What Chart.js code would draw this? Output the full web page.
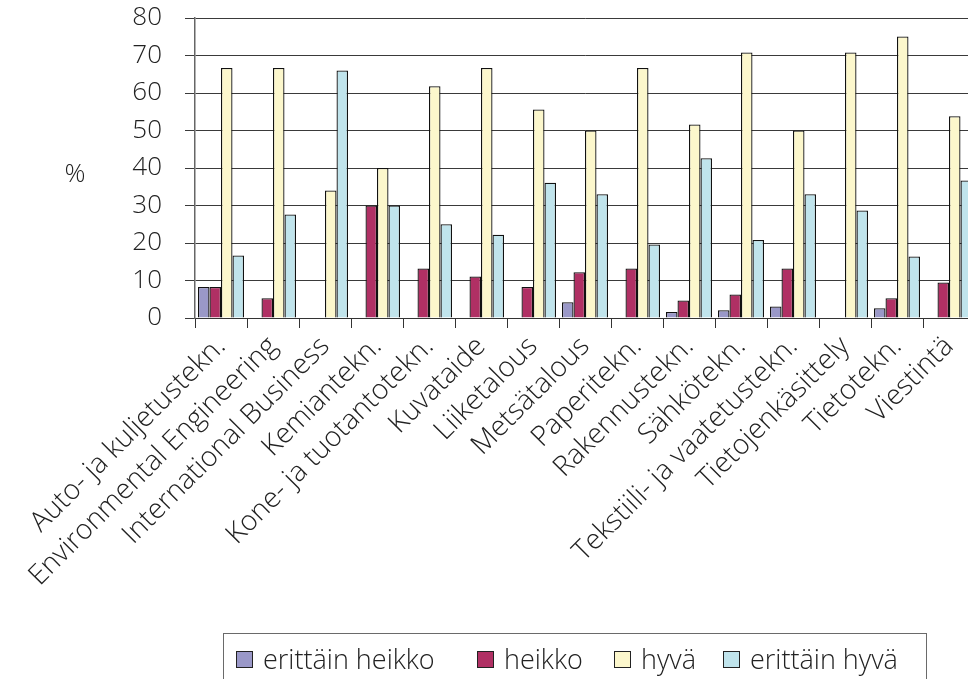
<!DOCTYPE html>
<html>
<head>
<meta charset="utf-8">
<script src="https://cdn.jsdelivr.net/npm/chart.js@4"></script>
<style>
  html, body { margin: 0; padding: 0; background: #fff; overflow: hidden; width: 968px; height: 679px; }
  #wrap { position: absolute; left: 0; top: 0; width: 990px; height: 679px; }
  #legend { position: absolute; left: 223px; top: 633px; width: 704px; height: 70px; border: 1px solid #6a6a6a; box-sizing: border-box; font-family: 'Open Sans', sans-serif; font-weight: 300; font-size: 27px; color: #222; }
  .item { position: absolute; top: 0; height: 52px; line-height: 52px; white-space: nowrap; }
  .sw { position: absolute; top: 17px; width: 15px; height: 15px; border: 1.5px solid #222; }
  .lbl { position: absolute; top: -1px; }
</style>
</head>
<body>
<div id="wrap"><canvas id="c" width="990" height="679"></canvas></div>
<div id="legend"></div>
<script>
const categories = ['Auto- ja kuljetustekn.', 'Environmental Engineering', 'International Business', 'Kemiantekn.', 'Kone- ja tuotantotekn.', 'Kuvataide', 'Liiketalous', 'Metsätalous', 'Paperitekn.', 'Rakennustekn.', 'Sähkötekn.', 'Tekstiili- ja vaatetustekn.', 'Tietojenkäsittely', 'Tietotekn.', 'Viestintä'];
const seriesNames = ['erittäin heikko', 'heikko', 'hyvä', 'erittäin hyvä'];
const erittainHeikko = [8.3, 0, 0, 0, 0, 0, 0, 4.2, 0, 1.6, 2.1, 3.1, 0, 2.6, 0];
const heikko = [8.3, 5.3, 0, 30, 13.2, 11.1, 8.3, 12.2, 13.2, 4.7, 6.3, 13.2, 0, 5.3, 9.5];
const hyva = [66.7, 66.7, 34.0, 40, 61.8, 66.7, 55.6, 50, 66.7, 51.6, 70.8, 50, 70.8, 75.1, 53.8];
const erittainHyva = [16.7, 27.6, 66.0, 30, 25.0, 22.2, 36.1, 33.0, 19.6, 42.6, 20.8, 33.0, 28.7, 16.4, 36.7];
const yTicks = [0, 10, 20, 30, 40, 50, 60, 70, 80];
const yTitle = '%';

const colors = ['#9a98c8', '#b03064', '#fcf7cc', '#c0e4ec'];
const FONT = "'Open Sans', sans-serif";

const seriesData = [erittainHeikko, heikko, hyva, erittainHyva];
const datasets = seriesNames.map((name, i) => ({
  label: name,
  data: seriesData[i],
  backgroundColor: colors[i],
  borderColor: '#111',
  borderWidth: 1.3,
  categoryPercentage: 0.885,
  barPercentage: 1.0
}));

const yTitlePlugin = {
  id: 'yTitle',
  afterDraw(chart) {
    const ctx = chart.ctx;
    ctx.save();
    ctx.font = '300 26px ' + FONT;
    ctx.fillStyle = '#222';
    ctx.textAlign = 'center';
    ctx.textBaseline = 'middle';
    ctx.fillText(yTitle, 75, 175);
    ctx.restore();
  }
};

new Chart(document.getElementById('c'), {
  type: 'bar',
  data: { labels: categories, datasets },
  options: {
    responsive: false,
    animation: false,
    layout: { padding: { top: 18, right: 15, left: 0, bottom: 0 } },
    plugins: { legend: { display: false }, tooltip: { enabled: false } },
    scales: {
      x: {
        grid: { display: true, drawOnChartArea: false, offset: true, tickLength: 10, color: '#333', lineWidth: 1 },
        border: { display: true, color: '#333', width: 1 },
        ticks: { minRotation: 45, maxRotation: 45, autoSkip: false, padding: 2, color: '#222', font: { family: FONT, size: 28, weight: 300 } },
        afterFit(scale) { scale.height = 361; scale.paddingLeft = 0; scale.paddingRight = 0; scale.paddingTop = 0; scale.paddingBottom = 0; }
      },
      y: {
        min: 0, max: 80,
        afterBuildTicks(scale) { scale.ticks = yTicks.map(v => ({ value: v })); },
        grid: { color: '#3a3a3a', lineWidth: 1, tickLength: 10 },
        border: { display: true, color: '#666', width: 1.5 },
        ticks: { padding: 23, autoSkip: false, color: '#222', font: { family: FONT, size: 26, weight: 300 } },
        afterFit(scale) { scale.width = 195; scale.paddingTop = 0; scale.paddingBottom = 0; scale.paddingLeft = 0; scale.paddingRight = 0; }
      }
    }
  },
  plugins: [yTitlePlugin]
});

// HTML legend
const legend = document.getElementById('legend');
const swLeft = [12, 253, 390, 499];
seriesNames.forEach((name, i) => {
  const it = document.createElement('div');
  it.className = 'item';
  it.style.left = swLeft[i] + 'px';
  const sw = document.createElement('div');
  sw.className = 'sw';
  sw.style.left = '0px';
  sw.style.background = colors[i];
  const lb = document.createElement('div');
  lb.className = 'lbl';
  lb.style.left = '27px';
  lb.textContent = name;
  it.appendChild(sw); it.appendChild(lb);
  legend.appendChild(it);
});
</script>
</body>
</html>
